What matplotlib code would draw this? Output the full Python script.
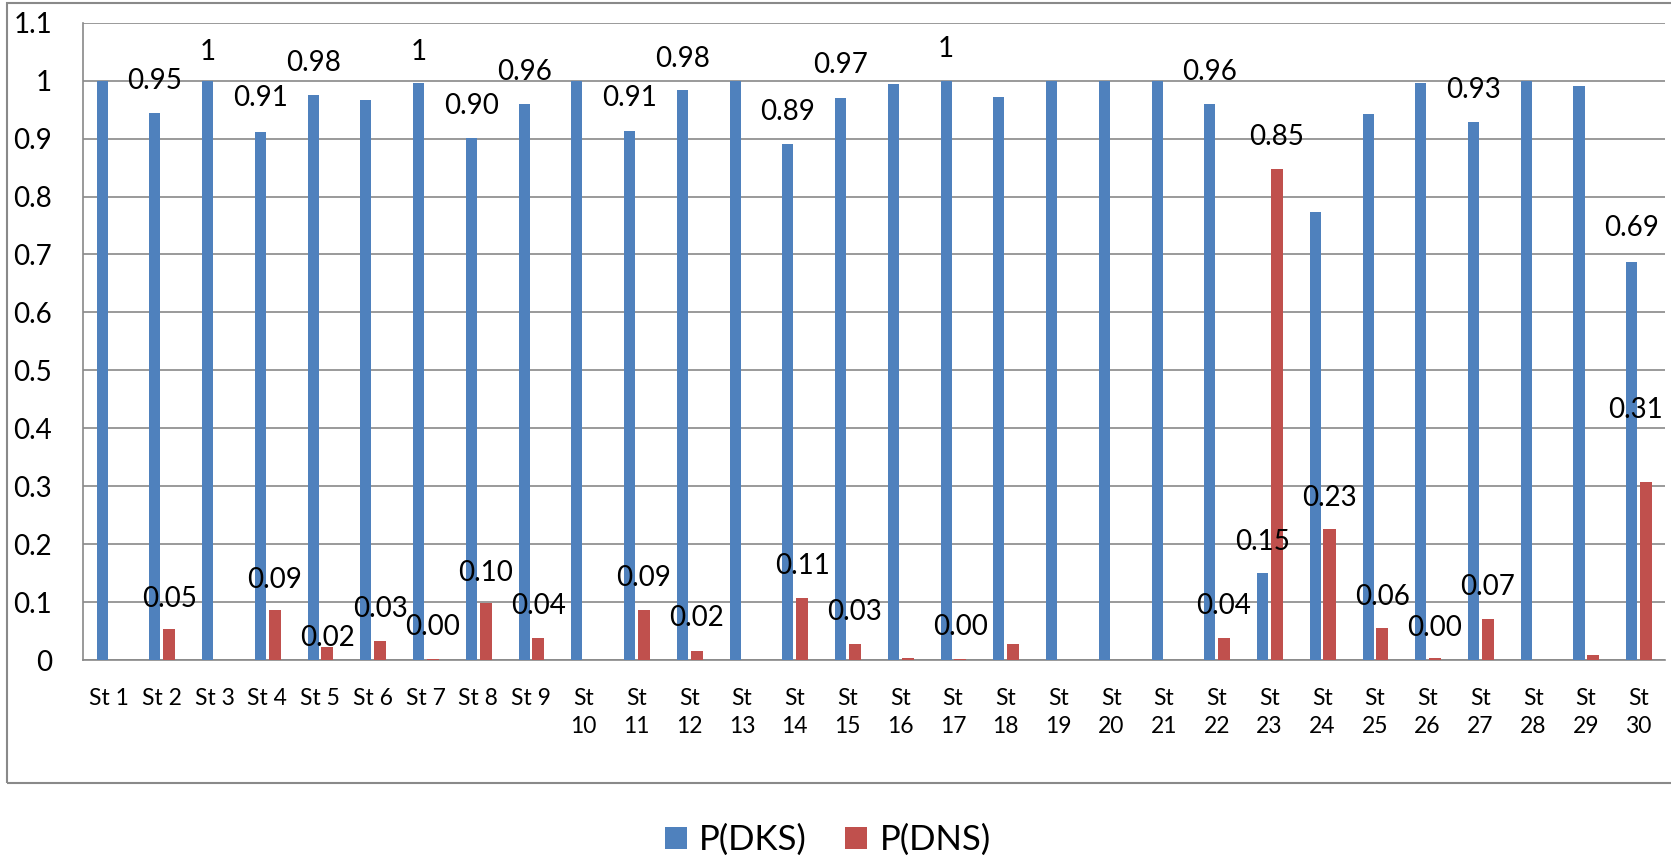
import numpy as np
import matplotlib.pyplot as plt
import matplotlib.patches as mpatches

plt.rcParams['font.family'] = ['Lato', 'DejaVu Sans']

# données
stations = ["St %d" % i if i < 10 else "St\n%d" % i for i in range(1, 31)]
p_dks = [1.0, 0.945, 1.0, 0.911, 0.975, 0.966, 0.996, 0.901, 0.959, 1.0,
         0.913, 0.983, 1.0, 0.891, 0.970, 0.995, 1.0, 0.971, 1.0, 1.0,
         1.0, 0.960, 0.150, 0.773, 0.943, 0.996, 0.928, 1.0, 0.990, 0.687]
p_dns = [0.0, 0.053, 0.0, 0.086, 0.023, 0.033, 0.002, 0.098, 0.0385, 0.0,
         0.087, 0.015, 0.0, 0.1075, 0.028, 0.003, 0.001, 0.028, 0.0, 0.0,
         0.0, 0.0385, 0.847, 0.226, 0.055, 0.003, 0.070, 0.0, 0.008, 0.308]

# étiquettes (index station, texte)
dks_lab_idx = [1, 2, 3, 4, 6, 7, 8, 10, 11, 13, 14, 16, 21, 22, 26, 29]
dks_lab_txt = ["0.95", "1", "0.91", "0.98", "1", "0.90", "0.96", "0.91", "0.98",
               "0.89", "0.97", "1", "0.96", "0.15", "0.93", "0.69"]
dns_lab_idx = [1, 3, 4, 5, 6, 7, 8, 10, 11, 13, 14, 16, 21, 22, 23, 24, 25, 26, 29]
dns_lab_txt = ["0.05", "0.09", "0.02", "0.03", "0.00", "0.10", "0.04", "0.09", "0.02",
               "0.11", "0.03", "0.00", "0.04", "0.85", "0.23", "0.06", "0.00", "0.07", "0.31"]

# position verticale des étiquettes (déplacées à la main dans l'original)
dks_lab_y = [1.0, 1.05, 0.97, 1.03, 1.05, 0.956, 1.015, 0.97, 1.038,
             0.946, 1.027, 1.054, 1.015, 0.204, 0.984, 0.745]
dns_lab_y = [0.105, 0.138, 0.038, 0.088, 0.057, 0.15, 0.093, 0.141, 0.072,
             0.162, 0.083, 0.057, 0.093, 0.9025, 0.28, 0.109, 0.056, 0.126, 0.431]
dns_lab_dx = [0] * 18 + [-0.2]

blue = "#4F81BD"
red = "#C0504D"
grey = "#898989"

x = np.arange(len(stations))
x_dks = x - 0.13
x_dns = x + 0.14

fig = plt.figure(figsize=(16.71, 8.59), dpi=100)
ax = fig.add_axes([0.04949, 0.23166, 0.94691, 0.74191])

ax.bar(x_dks, p_dks, width=0.21, color=blue, label="P(DKS)", zorder=3)
ax.bar(x_dns, p_dns, width=0.23, color=red, label="P(DNS)", zorder=3)

for i, t, yy in zip(dks_lab_idx, dks_lab_txt, dks_lab_y):
    ax.text(x_dks[i], yy, t, ha="center", va="center", fontsize=20, zorder=4)
for i, t, yy, dx in zip(dns_lab_idx, dns_lab_txt, dns_lab_y, dns_lab_dx):
    ax.text(x_dns[i] + dx, yy, t, ha="center", va="center", fontsize=20, zorder=4)

ax.set_xlim(-0.5, len(stations) - 0.5)
ax.set_ylim(0, 1.1)
yt = np.round(np.arange(0, 1.11, 0.1), 1)
ax.set_yticks(yt)
ax.set_yticklabels(["0" if v == 0 else ("1" if v == 1 else "%g" % v) for v in yt])
ax.set_xticks(x)
ax.set_xticklabels(stations, linespacing=1.45)
ax.tick_params(axis="y", length=0, pad=22, labelsize=20)
ax.tick_params(axis="x", length=0, pad=20, labelsize=16.5)

ax.yaxis.grid(True, color=grey, linewidth=1.2, zorder=0)
ax.set_axisbelow(True)
for s in ["top", "right"]:
    ax.spines[s].set_visible(False)
for s in ["left", "bottom"]:
    ax.spines[s].set_color(grey)
    ax.spines[s].set_linewidth(1.2)

# cadre du graphique
frame = mpatches.Rectangle((7 / 1671, 1 - 783 / 859), 1.0, (783 - 3) / 859,
                           transform=fig.transFigure, fill=False,
                           edgecolor=grey, linewidth=1.5, clip_on=False)
fig.patches.append(frame)

fig.legend(loc="center", bbox_to_anchor=(828 / 1671, 1 - 840 / 859), ncol=2,
           frameon=False, fontsize=25, handlelength=0.62, handleheight=0.62,
           handletextpad=0.36, columnspacing=1.1)

fig.savefig("out.png", dpi=100)
